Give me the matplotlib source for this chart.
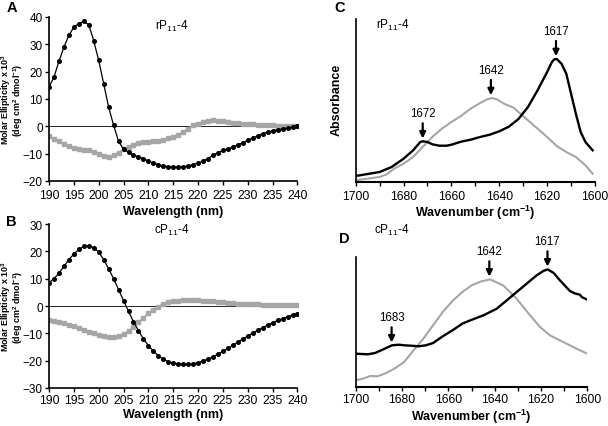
import matplotlib
matplotlib.use("Agg")
import matplotlib.pyplot as plt

plt.rcParams['font.family'] = ['Liberation Sans', 'DejaVu Sans']
plt.rcParams['mathtext.default'] = 'regular'

# ---- CD data (panels A, B) ----
wl = list(range(190, 241))
a_black = [14.4, 18.0, 23.8, 29.0, 33.3, 36.3, 37.6, 38.4, 37.2, 31.3, 24.1, 15.6, 7.0, 0.4,
           -5.5, -8.4, -9.4, -10.4, -11.2, -11.8, -12.7, -13.4, -14.0, -14.5, -14.8, -14.9,
           -14.9, -14.8, -14.5, -14.0, -13.4, -12.7, -11.8, -10.6, -9.6, -8.8, -8.2, -7.6,
           -6.7, -6.0, -5.1, -4.3, -3.5, -2.7, -2.1, -1.6, -1.2, -1.0, -0.6, -0.3, 0.0]
a_gray = [-3.5, -4.5, -5.5, -6.5, -7.3, -7.9, -8.3, -8.5, -8.8, -9.4, -10.0, -10.9, -11.3,
          -10.6, -9.6, -8.4, -7.6, -6.7, -6.1, -5.7, -5.7, -5.5, -5.2, -4.9, -4.3, -3.8,
          -3.0, -2.1, -0.9, 0.4, 1.0, 1.6, 2.1, 2.2, 2.1, 1.8, 1.6, 1.3, 1.1, 1.0, 0.9, 0.7,
          0.6, 0.5, 0.4, 0.4, 0.2, 0.1, 0.1, 0.0, 0.0]
b_black = [8.5, 10.0, 12.0, 14.5, 17.0, 19.0, 20.7, 21.8, 22.0, 21.4, 19.7, 17.0, 13.6, 10.0,
           6.0, 2.0, -2.0, -5.7, -9.0, -12.0, -14.5, -16.5, -18.2, -19.5, -20.4, -20.9,
           -21.2, -21.3, -21.3, -21.1, -20.7, -20.1, -19.4, -18.6, -17.6, -16.6, -15.5,
           -14.4, -13.2, -12.1, -11.0, -9.9, -8.9, -7.9, -7.0, -6.1, -5.3, -4.6, -3.9, -3.3, -2.8]
b_gray = [-5.2, -5.5, -5.9, -6.3, -6.8, -7.4, -8.0, -8.7, -9.4, -10.0, -10.6, -11.0, -11.3,
          -11.3, -11.0, -10.3, -9.2, -7.7, -6.0, -4.3, -2.7, -1.3, -0.2, 0.7, 1.3, 1.7, 2.0,
          2.1, 2.2, 2.2, 2.1, 2.0, 1.8, 1.7, 1.5, 1.3, 1.2, 1.0, 0.9, 0.8, 0.7, 0.6, 0.6,
          0.5, 0.5, 0.5, 0.4, 0.4, 0.4, 0.4, 0.4]

# ---- FTIR data (panels C, D), arbitrary absorbance units ----
c_black_x = [1700, 1690, 1685, 1680, 1676, 1673, 1672, 1670, 1668, 1665, 1662, 1660, 1656, 1652,
             1648, 1644, 1640, 1636, 1632, 1628, 1624, 1620, 1618, 1617, 1616, 1614, 1612,
             1610, 1608, 1606, 1604, 1601]
c_black_y = [6, 10, 15, 23.3, 31.7, 40, 40.7, 40, 37.7, 36.3, 36.3, 37.3, 40.3, 42.3, 45, 47.3,
             50.7, 55.3, 63, 75, 91.7, 110, 120, 122.7, 123, 118.3, 108.3, 88.3, 68.3, 50, 40, 31.7]
c_gray_x = [1700, 1690, 1687, 1684, 1680, 1676, 1672, 1668, 1664, 1660, 1656, 1652, 1648, 1645,
            1643, 1641, 1638, 1634, 1632, 1628, 1624, 1620, 1616, 1612, 1608, 1604, 1601]
c_gray_y = [1.7, 5, 7.7, 13.3, 18.3, 25, 35, 45, 53.3, 60, 66, 73.3, 79, 82.7, 84, 82.7, 78.3,
            74.3, 70, 61.7, 53.3, 45, 36, 30, 25, 16.7, 8.3]
d_black_x = [1700, 1694.8, 1691.6, 1687.5, 1684.3, 1681.2, 1679.1, 1676.0, 1672.8, 1669.7,
             1666.6, 1662.4, 1658.2, 1654.0, 1650.6, 1644.9, 1639.1, 1634.8, 1630.5, 1626.2,
             1621.9, 1619.0, 1617.1, 1614.5, 1611.8, 1607.5, 1605.3, 1603.2, 1602.4, 1600]
d_black_y = [33.3, 32.7, 34, 38.3, 41.7, 42.3, 41.7, 41.3, 40.7, 41.7, 44, 50.7, 56.7, 63.3,
             66.6, 71.6, 78.3, 86.6, 95, 103.3, 111.6, 116, 117.6, 114, 106.6, 96, 93.5, 92.3,
             90, 87.3]
d_gray_x = [1700, 1696.9, 1693.7, 1690.6, 1687.5, 1683.3, 1679.1, 1675.0, 1670.8, 1666.6,
            1662.4, 1658.2, 1654.0, 1649.9, 1645.7, 1642.0, 1636.3, 1630.5, 1624.7, 1620.4,
            1616.1, 1610.4, 1604.6, 1600]
d_gray_y = [6.7, 8.3, 11, 10.7, 13.3, 18.3, 25, 36.7, 48.3, 61.7, 75, 86, 95, 101.7, 105.7,
            107.6, 101.6, 88.3, 71.6, 60, 51.6, 45, 38.3, 33.3]

# peak annotations: (label, x position, y of curve)
c_peaks = [("1672", 1672, 40.7), ("1642", 1643.5, 84), ("1617", 1616.3, 123)]
d_peaks = [("1683", 1684.5, 41.7), ("1642", 1642.3, 107.6), ("1617", 1617.2, 117.6)]

W, H = 608, 427
fig = plt.figure(figsize=(W / 100, H / 100), dpi=100)

def box(l, t, r, b):
    return [l / W, 1 - b / H, (r - l) / W, (b - t) / H]

def ftxt(x, y, s, **kw):
    return fig.text(x / W, 1 - y / H, s, **kw)

GRAY = '#a6a6a6'
TFS = 8.8
LFS = 9

def style_cd(ax, ylim, ystep, pad, labcenter, bottom_px, height_px):
    ax.set_xlim(190, 240)
    ax.set_ylim(*ylim)
    ax.set_xticks(range(190, 241, 5))
    ax.set_yticks(range(ylim[0], ylim[1] + 1, ystep))
    for s in ['top', 'right']:
        ax.spines[s].set_visible(False)
    for s in ['left', 'bottom']:
        ax.spines[s].set_linewidth(1.2)
    ax.tick_params(direction='out', length=3, width=1, labelsize=TFS, pad=1.5)
    ax.tick_params(axis='y', labelsize=8.5)
    ax.tick_params(axis='x', pad=pad)
    ax.axhline(0, color='#222222', lw=0.7, zorder=1)
    ax.set_xlabel('Wavelength (nm)', fontsize=LFS, fontweight='bold', va='center')
    ax.xaxis.set_label_coords(0.5, -(labcenter - bottom_px) / height_px)

ylab = 'Molar Ellipticity x 10$^3$\n(deg cm$^2$ dmol$^{-1}$)'

axA = fig.add_axes(box(49, 18, 297.5, 182))
axA.plot(wl, a_gray, color=GRAY, lw=1.2, marker='s', ms=3.2, mec=GRAY, mfc=GRAY, zorder=2)
axA.plot(wl, a_black, color='black', lw=0.9, marker='o', ms=2.6, zorder=3)
style_cd(axA, (-20, 40), 10, 2.5, 212, 182, 164)
ftxt(12, 100, ylab, fontsize=6.4, fontweight='bold', rotation=90, ha='center', va='center',
     linespacing=0.88, multialignment='center')
ftxt(172, 26, 'rP$_{11}$-4', fontsize=8.5, ha='center', va='center')

axB = fig.add_axes(box(49, 225, 297.5, 389))
axB.plot(wl, b_gray, color=GRAY, lw=1.2, marker='s', ms=3.2, mec=GRAY, mfc=GRAY, zorder=2)
axB.plot(wl, b_black, color='black', lw=0.9, marker='o', ms=2.6, zorder=3)
style_cd(axB, (-30, 30), 10, 1.0, 415, 389, 164)
ftxt(12, 307, ylab, fontsize=6.4, fontweight='bold', rotation=90, ha='center', va='center',
     linespacing=0.88, multialignment='center')
ftxt(172, 230, 'cP$_{11}$-4', fontsize=8.5, ha='center', va='center')

def style_ir(ax, ytop, pad, labcenter, bottom_px, height_px):
    ax.set_xlim(1700, 1600)
    ax.set_ylim(0, ytop)
    ax.set_xticks(range(1700, 1599, -20))
    ax.set_xticks(range(1690, 1600, -20), minor=True)
    ax.set_yticks([])
    for s in ['top', 'right']:
        ax.spines[s].set_visible(False)
    ax.spines['left'].set_linewidth(1.2)
    ax.spines['bottom'].set_linewidth(1.5)
    ax.tick_params(axis='x', which='both', direction='out', length=3, width=1,
                   labelsize=TFS, pad=pad)
    ax.set_xlabel('Wavenumber (cm$^{-1}$)', fontsize=LFS, fontweight='bold', va='center')
    ax.xaxis.set_label_coords(0.5, -(labcenter - bottom_px) / height_px)

def peaks(ax, plist):
    for lab, x, y in plist:
        ax.annotate(lab, xy=(x, y), xycoords='data',
                    xytext=(0, 16), textcoords='offset points',
                    ha='center', va='bottom', fontsize=8.3,
                    arrowprops=dict(arrowstyle='-|>', color='black', lw=1.6,
                                    mutation_scale=9, shrinkA=1, shrinkB=2))

axC = fig.add_axes(box(355.7, 20, 595, 183))
axC.plot(c_gray_x, c_gray_y, color=GRAY, lw=1.5)
axC.plot(c_black_x, c_black_y, color='black', lw=1.7)
style_ir(axC, 163, 2.5, 213, 183, 163)
ftxt(337, 100, 'Absorbance', fontsize=LFS, fontweight='bold', rotation=90,
     ha='center', va='center')
peaks(axC, c_peaks)
ftxt(393, 25, 'rP$_{11}$-4', fontsize=8.5, ha='center', va='center')

axD = fig.add_axes(box(355.7, 258, 587.3, 388))
axD.plot(d_gray_x, d_gray_y, color=GRAY, lw=1.5)
axD.plot(d_black_x, d_black_y, color='black', lw=1.7)
style_ir(axD, 130, 1.0, 416.5, 388, 130)
peaks(axD, d_peaks)
ftxt(392, 230, 'cP$_{11}$-4', fontsize=8.5, ha='center', va='center')

for lab, x, y in [('A', 7, 8), ('B', 6, 222), ('C', 334, 8), ('D', 339, 239)]:
    ftxt(x, y, lab, fontsize=10.5, fontweight='bold', ha='left', va='center')

fig.savefig('out.png', dpi=100)
